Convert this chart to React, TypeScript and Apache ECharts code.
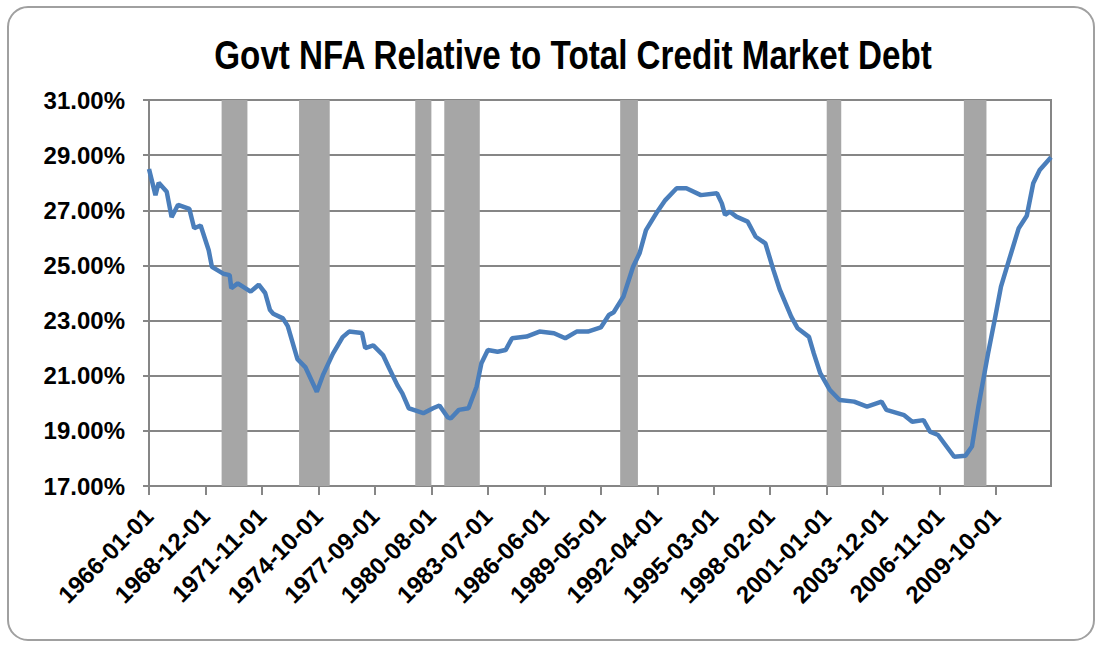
import React, { useEffect, useRef } from "react";
import * as echarts from "echarts";

const TITLE = "Govt NFA Relative to Total Credit Market Debt";

// Monthly category axis: 1966-01 .. 2012-08
const START_YEAR = 1966;
const MONTH_COUNT = 560;
const categories: string[] = [];
for (let i = 0; i < MONTH_COUNT; i++) {
  const y = START_YEAR + Math.floor(i / 12);
  const m = (i % 12) + 1;
  categories.push(`${y}-${m < 10 ? "0" + m : m}-01`);
}

// Values (percent)
const pointDates = [
  "1966-01", "1966-05", "1966-07", "1966-12", "1967-03", "1967-07", "1968-02", "1968-05", "1968-09",
  "1969-02", "1969-04", "1969-11", "1970-03", "1970-04", "1970-08", "1971-04", "1971-09", "1972-01",
  "1972-04", "1972-06", "1972-12", "1973-03", "1973-09", "1974-02", "1974-09", "1975-01", "1975-07",
  "1976-01", "1976-05", "1977-01", "1977-03", "1977-08", "1978-02", "1978-06", "1978-11", "1979-02",
  "1979-06", "1979-09", "1980-03", "1980-09", "1981-01", "1981-06", "1981-08", "1982-01", "1982-07",
  "1982-12", "1983-03", "1983-07", "1984-01", "1984-06", "1984-10", "1985-07", "1986-03", "1986-12",
  "1987-07", "1988-02", "1988-09", "1989-05", "1989-10", "1990-01", "1990-07", "1991-01", "1991-05",
  "1991-09", "1992-04", "1992-09", "1993-04", "1993-10", "1994-07", "1995-05", "1995-08", "1995-10",
  "1996-01", "1996-05", "1996-12", "1997-05", "1997-11", "1998-04", "1998-08", "1999-03", "1999-07",
  "2000-02", "2000-05", "2000-09", "2001-03", "2001-09", "2002-06", "2003-02", "2003-11", "2004-02",
  "2005-01", "2005-06", "2006-01", "2006-05", "2006-10", "2007-08", "2008-03", "2008-07", "2008-11",
  "2009-05", "2009-09", "2010-01", "2010-06", "2010-12", "2011-05", "2011-09", "2012-01", "2012-08",
];
const pointValues = [
  28.5, 27.55, 28.0, 27.67, 26.75, 27.2, 27.05, 26.35, 26.45,
  25.55, 24.95, 24.7, 24.65, 24.17, 24.35, 24.05, 24.3, 24.0,
  23.38, 23.25, 23.08, 22.8, 21.6, 21.3, 20.42, 21.05, 21.8,
  22.4, 22.6, 22.55, 22.0, 22.1, 21.75, 21.25, 20.65, 20.36,
  19.82, 19.76, 19.64, 19.82, 19.92, 19.5, 19.45, 19.76, 19.82,
  20.6, 21.45, 21.93, 21.87, 21.93, 22.36, 22.42, 22.6, 22.54,
  22.36, 22.6, 22.6, 22.75, 23.2, 23.3, 23.87, 24.95, 25.44,
  26.28, 26.95, 27.37, 27.8, 27.8, 27.55, 27.62, 27.25, 26.83,
  26.95, 26.77, 26.59, 26.04, 25.8, 24.83, 24.11, 23.14, 22.72,
  22.41, 21.81, 21.09, 20.48, 20.12, 20.06, 19.88, 20.06, 19.76,
  19.57, 19.33, 19.39, 18.97, 18.85, 18.06, 18.1, 18.43, 19.88,
  21.81, 23.0, 24.23, 25.2, 26.35, 26.8, 27.98, 28.46, 28.92,
];

// Shaded recession periods
const recessionStarts = ["1969-10", "1973-10", "1979-10", "1981-04", "1990-05", "2001-01", "2008-02"];
const recessionEnds = ["1971-02", "1975-05", "1980-08", "1983-02", "1991-04", "2001-10", "2009-04"];

const yTickMin = 17;
const yTickMax = 31;
const yTickStep = 2;

export default function App() {
  const ref = useRef<HTMLDivElement>(null);

  useEffect(() => {
    if (!ref.current) return;
    const chart = echarts.init(ref.current, undefined, { renderer: "svg" });

    const lookup: Record<string, number> = {};
    pointDates.forEach((d, i) => {
      lookup[d + "-01"] = pointValues[i];
    });
    const seriesData = categories.map((c) => (c in lookup ? lookup[c] : null));

    const areas = recessionStarts.map((s, i) => [
      { xAxis: s + "-01" },
      { xAxis: recessionEnds[i] + "-01" },
    ]);

    const labelFont = "'Liberation Sans', Arial, sans-serif";

    chart.setOption({
      animation: false,
      backgroundColor: "#ffffff",
      graphic: [
        {
          type: "rect",
          shape: { x: 8, y: 7, width: 1086, height: 633, r: 20 },
          style: { fill: "none", stroke: "#a0a0a0", lineWidth: 2 },
          silent: true,
          z: -10,
        },
        {
          type: "text",
          x: 573,
          y: 55,
          scaleX: 0.83,
          silent: true,
          style: {
            text: TITLE,
            fill: "#000000",
            font: "bold 40px 'Liberation Sans', Arial, sans-serif",
            textAlign: "center",
            textVerticalAlign: "middle",
          },
        },
      ],
      grid: {
        left: 149,
        right: 50,
        top: 100,
        bottom: 161,
        show: true,
        borderColor: "#868686",
        borderWidth: 2,
        containLabel: false,
      },
      xAxis: {
        type: "category",
        data: categories,
        boundaryGap: false,
        axisLine: { lineStyle: { color: "#868686", width: 2 } },
        axisTick: { interval: 34, length: 9, lineStyle: { color: "#868686", width: 2 } },
        axisLabel: {
          interval: 34,
          rotate: 45,
          margin: 26,
          fontFamily: labelFont,
          fontWeight: "bold",
          fontSize: 24,
          color: "#000000",
        },
        splitLine: { show: false },
      },
      yAxis: {
        type: "value",
        min: yTickMin,
        max: yTickMax,
        interval: yTickStep,
        axisLine: { show: true, lineStyle: { color: "#868686", width: 2 } },
        axisTick: { show: true, length: 6, lineStyle: { color: "#868686", width: 2 } },
        axisLabel: {
          margin: 24,
          fontFamily: labelFont,
          fontWeight: "bold",
          fontSize: 24,
          color: "#000000",
          formatter: (v: number) => v.toFixed(2) + "%",
        },
        splitLine: { show: true, lineStyle: { color: "#868686", width: 2 } },
      },
      series: [
        {
          type: "line",
          data: [],
          z: 1,
          silent: true,
          markArea: {
            silent: true,
            itemStyle: { color: "#a6a6a6", opacity: 1 },
            data: areas,
          },
        },
        {
          type: "line",
          data: seriesData,
          connectNulls: true,
          showSymbol: false,
          symbol: "none",
          z: 3,
          lineStyle: { color: "#4a7ebb", width: 4.5 },
        },
      ],
    });

    return () => chart.dispose();
  }, []);

  return (
    <div
      style={{
        position: "fixed",
        left: 0,
        top: 0,
        width: 1101,
        height: 647,
        background: "#ffffff",
      }}
    >
      <div ref={ref} style={{ width: 1101, height: 647 }} />
    </div>
  );
}
